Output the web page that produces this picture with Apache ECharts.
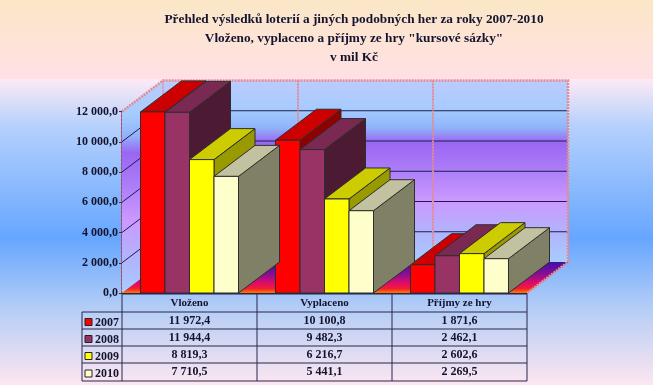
<!DOCTYPE html>
<html>
<head>
<meta charset="utf-8">
<script src="https://cdn.jsdelivr.net/npm/echarts@6/dist/echarts.min.js"></script>
<style>
html,body{margin:0;padding:0;}
#main{width:653px;height:385px;}
</style>
</head>
<body>
<div id="main"></div>
<script>
var titleLines = ['Přehled výsledků loterií a jiných podobných her za roky 2007-2010', 'Vloženo, vyplaceno a příjmy ze hry "kursové sázky"', 'v mil Kč'];
var categories = ['Vloženo', 'Vyplaceno', 'Příjmy ze hry'];
var years = ['2007', '2008', '2009', '2010'];
var values2007 = [11972.4, 10100.8, 1871.6];
var values2008 = [11944.4, 9482.3, 2462.1];
var values2009 = [8819.3, 6216.7, 2602.6];
var values2010 = [7710.5, 5441.1, 2269.5];
var yTicks = [0, 2000, 4000, 6000, 8000, 10000, 12000];

var allValues = [values2007, values2008, values2009, values2010];
var frontColors = ['#ff0000', '#993366', '#ffff00', '#ffffcc'];
var topColors = ['#cc0000', '#7a2952', '#cccc00', '#c2c2a0'];
var sideColors = ['#8f0000', '#4d1a33', '#999900', '#808066'];

var FONT = '"Liberation Serif", "Times New Roman", serif';
var TEXT = '#14142e';
var DX = 41, DY = 31; // hloubka 3D
var GRID = {left: 122, top: 111.5, width: 405, height: 181.5};

function fmt(v) {
    var s = v.toFixed(1).split('.');
    return s[0].replace(/\B(?=(\d{3})+$)/g, ' ') + ',' + s[1];
}

function poly(points, fill, stroke, width, dash) {
    return {
        type: 'polygon',
        shape: {points: points},
        style: {fill: fill, stroke: stroke || null, lineWidth: width || 0, lineDash: dash || null}
    };
}

function line(points, stroke, width, dash) {
    return {
        type: 'polyline',
        shape: {points: points},
        style: {fill: null, stroke: stroke, lineWidth: width, lineDash: dash || null}
    };
}

function wallGradient() {
    return new echarts.graphic.LinearGradient(0, 0, 0, 1, [
        {offset: 0, color: '#bccbfd'},
        {offset: 0.16, color: '#a6cbff'},
        {offset: 0.26, color: '#90b4fa'},
        {offset: 0.34, color: '#9a66f2'},
        {offset: 0.5, color: '#ad7ef8'},
        {offset: 0.66, color: '#cc99ff'},
        {offset: 0.84, color: '#b0b4fd'},
        {offset: 1, color: '#a8ccff'}
    ]);
}

// steny, mrizka a podlaha
function renderWalls(params, api) {
    var g = params.coordSys;
    var x0 = g.x, x1 = g.x + g.width, yb = g.y + g.height, yt = g.y;
    var border = '#e58a8e';
    var dash = [2, 1];
    var children = [
        poly([[x0 + DX, yt - DY], [x1 + DX, yt - DY], [x1 + DX, yb - DY], [x0 + DX, yb - DY]], wallGradient()),
        poly([[x0, yb], [x0, yt], [x0 + DX, yt - DY], [x0 + DX, yb - DY]], wallGradient())
    ];
    yTicks.forEach(function (t) {
        if (t === 0 || t === yTicks[yTicks.length - 1]) return;
        var y = api.coord([0, t])[1];
        children.push(line([[x0, y], [x0 + DX, y - DY], [x1 + DX, y - DY]], '#1c1c4c', 1));
    });
    children.push(poly([[x0, yb], [x1, yb], [x1 + DX, yb - DY], [x0 + DX, yb - DY]],
        new echarts.graphic.LinearGradient(0, 0, 0, 1, [
            {offset: 0, color: '#3d10a8'},
            {offset: 0.4, color: '#8a0f92'},
            {offset: 0.72, color: '#e80c62'},
            {offset: 0.86, color: '#f0202c'},
            {offset: 1, color: '#ff7a00'}
        ])));
    var step = g.width / categories.length;
    children.push(line([[x0, yt], [x0 + DX, yt - DY], [x1 + DX, yt - DY], [x1 + DX, yb - DY], [x1, yb]], border, 2.5, dash));
    children.push(line([[x0 + DX, yt - DY], [x0 + DX, yb - DY]], border, 1.5, dash));
    for (var i = 1; i < categories.length; i++) {
        children.push(line([[x0 + DX + step * i, yt - DY], [x0 + DX + step * i, yb - DY]], border, 2, dash));
    }
    return {type: 'group', children: children};
}

function renderBar(index) {
    return function (params, api) {
        var top = api.coord([api.value(0), api.value(1)]);
        var base = api.coord([api.value(0), 0]);
        var band = api.size([1, 0])[0];
        var w = band * 0.726 / 4;
        var l = top[0] - 2 * w + index * w;
        var r = l + w;
        var stroke = '#2e2e2e';
        return {
            type: 'group',
            children: [
                poly([[r, top[1]], [r + DX, top[1] - DY], [r + DX, base[1] - DY], [r, base[1]]], sideColors[index], stroke, 1),
                poly([[l, top[1]], [l + DX, top[1] - DY], [r + DX, top[1] - DY], [r, top[1]]], topColors[index], stroke, 1),
                poly([[l, top[1]], [r, top[1]], [r, base[1]], [l, base[1]]], frontColors[index], stroke, 1)
            ]
        };
    };
}

var series = [{
    type: 'custom',
    silent: true,
    z: 1,
    renderItem: renderWalls,
    data: [[0, 0]],
    clip: false
}];
years.forEach(function (year, i) {
    series.push({
        name: year,
        type: 'custom',
        z: 2 + i,
        clip: false,
        renderItem: renderBar(i),
        encode: {x: 0, y: 1},
        data: allValues[i].map(function (v, c) { return [c, v]; })
    });
});

// tabulka pod grafem
var tableLeft = 82, tableRight = 527, colX = [122, 257, 392, 527], rowY = [294, 312, 329, 346, 363, 381];
var tableColor = '#26264a';
var graphic = [];
function seg(x1, y1, x2, y2) {
    graphic.push({type: 'line', shape: {x1: x1, y1: y1, x2: x2, y2: y2}, style: {stroke: tableColor, lineWidth: 1}, z: 20});
}
rowY.forEach(function (y, i) {
    seg(i === 0 ? colX[0] : tableLeft, y, tableRight, y);
});
colX.forEach(function (x) { seg(x, rowY[0], x, rowY[5]); });
seg(tableLeft, rowY[1], tableLeft, rowY[5]);
function tableText(x, y, text, align) {
    graphic.push({
        type: 'text', x: x, y: y, z: 21,
        style: {text: text, fill: TEXT, font: 'bold 12px ' + FONT, textAlign: align || 'center', textVerticalAlign: 'middle'}
    });
}
years.forEach(function (year, i) {
    var mid = (rowY[i + 1] + rowY[i + 2]) / 2;
    graphic.push({
        type: 'rect', z: 21,
        shape: {x: 85, y: mid - 2, width: 7, height: 7},
        style: {fill: frontColors[i], stroke: '#222222', lineWidth: 1}
    });
    tableText(95, mid + 2, year, 'left');
    allValues[i].forEach(function (v, c) {
        tableText((colX[c] + colX[c + 1]) / 2, mid, fmt(v));
    });
});

// titulek
titleLines.forEach(function (text, i) {
    graphic.push({
        type: 'text', x: 354, y: 20 + i * 19, z: 21,
        style: {text: text, fill: TEXT, font: 'bold 13.3px ' + FONT, textAlign: 'center', textVerticalAlign: 'middle'}
    });
});

var chart = echarts.init(document.getElementById('main'));
chart.setOption({
    animation: false,
    backgroundColor: new echarts.graphic.LinearGradient(0, 0, 0, 1, [
        {offset: 0, color: '#fbe7c6'},
        {offset: 0.205, color: '#ffe0e6'},
        {offset: 0.205, color: '#fdeaf4'},
        {offset: 0.33, color: '#b4d0fd'},
        {offset: 0.62, color: '#66a6ff'},
        {offset: 0.8, color: '#b4cdf6'},
        {offset: 1, color: '#fde6f0'}
    ]),
    grid: {left: GRID.left, top: GRID.top, width: GRID.width, height: GRID.height},
    xAxis: {
        type: 'category',
        data: categories,
        axisLine: {show: true, lineStyle: {color: tableColor, width: 1}},
        axisTick: {show: false},
        splitLine: {show: false},
        axisLabel: {interval: 0, margin: 5, fontFamily: FONT, fontSize: 11, fontWeight: 'bold', color: TEXT}
    },
    yAxis: {
        type: 'value',
        min: 0,
        max: 12000,
        interval: 2000,
        splitLine: {show: false},
        axisLine: {show: true, lineStyle: {color: '#a04a60', width: 2, type: 'dotted'}},
        axisTick: {show: true, length: 3, lineStyle: {color: '#33334d'}},
        axisLabel: {
            margin: 4,
            padding: [3, 0, 0, 0],
            fontFamily: FONT,
            fontSize: 12,
            fontWeight: 'bold',
            color: TEXT,
            formatter: function (v) { return fmt(v); }
        }
    },
    series: series,
    graphic: graphic
});
</script>
</body>
</html>
